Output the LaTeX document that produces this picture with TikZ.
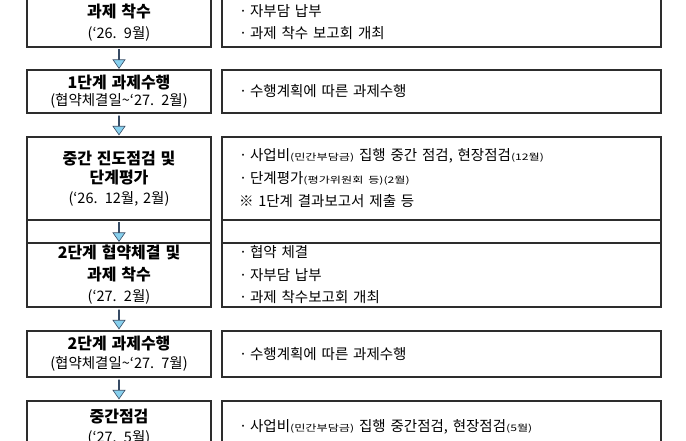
\documentclass[tikz,border=0pt]{standalone}
\usepackage{fontspec}
\newfontfamily\krfont[WordSpace=2]{Noto Sans CJK KR}
\newfontfamily\krtitle[WordSpace=3.3]{Noto Sans CJK KR}
\newfontfamily\krsmall[FakeStretch=1.35]{Noto Sans CJK KR}
\definecolor{boxgray}{RGB}{45, 45, 45}
\definecolor{arrowblue}{RGB}{135, 208, 238}
\definecolor{arrowline}{RGB}{55, 75, 100}
\usetikzlibrary{shapes.arrows, positioning}
\newcommand{\subnote}[1]{{\krsmall\fontsize{9}{20}\selectfont #1}}
\newcommand{\stagetitle}[1]{{\krtitle\bfseries\fontsize{16}{20}\selectfont #1}}
\newcommand{\itm}{·\hspace{3pt}}

\begin{document}
\begin{tikzpicture}[x=1pt, y=-1pt,
  stagebox/.style={draw=boxgray, line width=1.2pt, fill=white, text width=176pt, align=center, inner xsep=4pt, inner ysep=2pt, font=\krfont\fontsize{14.5}{19.5}\selectfont},
  taskbox/.style={draw=boxgray, line width=1.2pt, fill=white, text width=405pt, align=left, inner xsep=17pt, inner ysep=2pt, font=\krfont\fontsize{14.5}{23}\selectfont},
  downarr/.style={single arrow, draw=arrowline, fill=arrowblue, line width=0.6pt, shape border rotate=270, minimum height=19pt, minimum width=12pt, single arrow head extend=3.5pt, single arrow tip angle=70, inner sep=0pt}]
  \useasboundingbox (0,0) rectangle (686,440);
  \clip (0,0) rectangle (686,440);
  \fill[white] (0,0) rectangle (686,440);

  % 과제 착수
  \node[stagebox, minimum height=49pt, font=\krfont\fontsize{14.5}{21}\selectfont] (stage1) at (119, 22.5) {\stagetitle{과제 착수}\\(‘26. 9월)};
  \node[taskbox, minimum height=49pt, font=\krfont\fontsize{14.5}{22}\selectfont] (task1) at (441.5, 22.5) {\itm 자부담 납부\\\itm 과제 착수 보고회 개최};

  % 1단계 과제수행
  \node[stagebox, minimum height=43pt, font=\krfont\fontsize{14.5}{17.5}\selectfont] (stage2) at (119, 91.5) {\stagetitle{1단계 과제수행}\\(협약체결일\textasciitilde‘27. 2월)};
  \node[taskbox, minimum height=43pt] (task2) at (441.5, 91.5) {\itm 수행계획에 따른 과제수행};

  % 중간 진도점검 및 단계평가
  \node[stagebox, minimum height=83pt] (stage3) at (119, 178.5) {\stagetitle{중간 진도점검 및}\\\stagetitle{단계평가}\\(‘26. 12월, 2월)};
  \node[taskbox, minimum height=83pt] (task3) at (441.5, 178.5) {\itm 사업비\subnote{(민간부담금)} 집행 중간 점검, 현장점검\subnote{(12월)}\\\itm 단계평가\subnote{(평가위원회 등)(2월)}\\ ※ 1단계 결과보고서 제출 등};
  \node[stagebox, minimum height=23pt] (gap3) at (119, 231.5) {};
  \node[taskbox, minimum height=23pt] (gaptask3) at (441.5, 231.5) {};

  % 2단계 협약체결 및 과제 착수
  \node[stagebox, minimum height=64pt, font=\krfont\fontsize{14.5}{21.5}\selectfont] (stage4) at (119, 275) {\stagetitle{2단계 협약체결 및}\\\stagetitle{과제 착수}\\(‘27. 2월)};
  \node[taskbox, minimum height=64pt, font=\krfont\fontsize{14.5}{22.5}\selectfont] (task4) at (441.5, 275) {\itm 협약 체결\\\itm 자부담 납부\\\itm 과제 착수보고회 개최};

  % 2단계 과제수행
  \node[stagebox, minimum height=46pt, font=\krfont\fontsize{14.5}{19}\selectfont] (stage5) at (119, 354) {\stagetitle{2단계 과제수행}\\(협약체결일\textasciitilde‘27. 7월)};
  \node[taskbox, minimum height=46pt] (task5) at (441.5, 354) {\itm 수행계획에 따른 과제수행};

  % 중간점검
  \node[stagebox, minimum height=52pt, font=\krfont\fontsize{14.5}{20}\selectfont] (stage6) at (119, 427) {\stagetitle{중간점검}\\(‘27. 5월)};
  \node[taskbox, minimum height=52pt] (task6) at (441.5, 427) {\itm 사업비\subnote{(민간부담금)} 집행 중간점검, 현장점검\subnote{(5월)}};

  % arrows
  \path (stage1) -- (stage2) node[midway, downarr] {};
  \path (stage2) -- (stage3) node[midway, downarr] {};
  \path (stage3) -- (stage4) node[midway, downarr] {};
  \path (stage4) -- (stage5) node[midway, downarr] {};
  \path (stage5) -- (stage6) node[midway, downarr] {};
\end{tikzpicture}
\end{document}
